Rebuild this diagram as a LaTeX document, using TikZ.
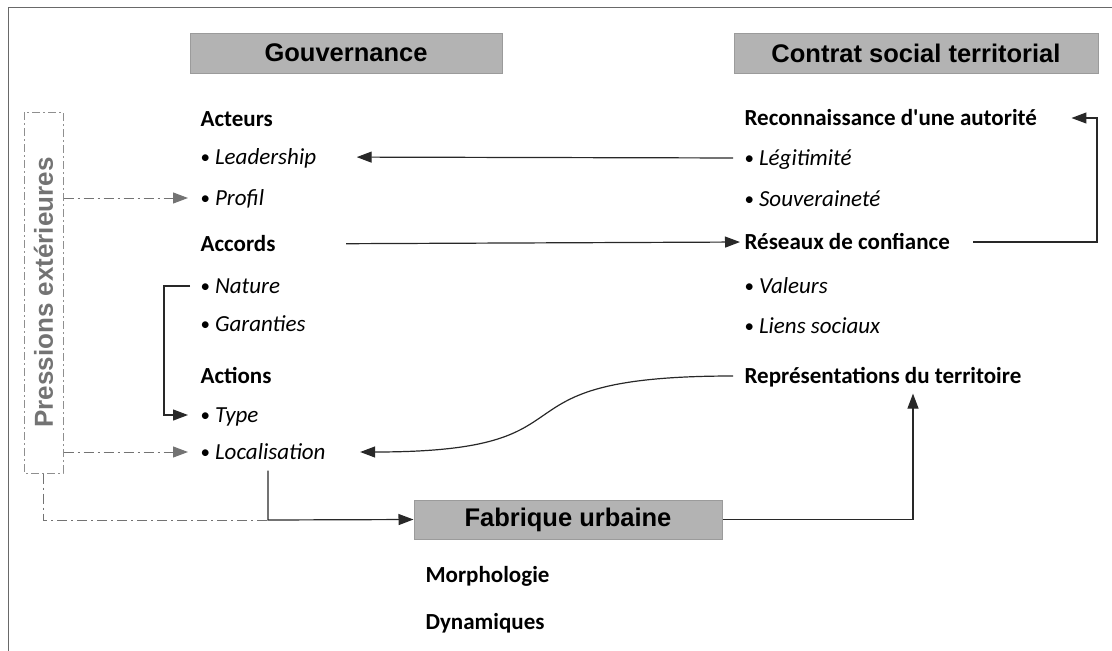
\documentclass[tikz,border=0pt]{standalone}
\usepackage{fontspec}
\setmainfont{Carlito}
\newfontfamily\titlefont{Liberation Sans}
\usepackage{tikz}
\usetikzlibrary{arrows.meta}

\definecolor{boxgray}{RGB}{179,179,179}
\definecolor{boxedge}{RGB}{155,155,155}
\definecolor{framegray}{RGB}{105,105,105}
\definecolor{linegray}{RGB}{40,40,40}
\definecolor{pressgray}{RGB}{115,115,115}

\newcommand{\bul}{{\fontsize{19}{19}\selectfont\raisebox{0.5pt}{•}}\hspace{5pt}}

\begin{document}
\begin{tikzpicture}[->,>={Triangle[length=15pt,width=11pt]},x=1pt,y=-1pt,
                    line width=1.2pt, color=linegray]
  \tikzstyle{title}=[draw=boxedge,fill=boxgray,text=black,line width=1pt,
                     minimum height=40pt,font=\titlefont\bfseries\fontsize{25.5}{30}\selectfont]
  \tikzstyle{head}=[anchor=west,inner sep=0pt,text=black,text height=17pt,
                    text depth=3pt,font=\bfseries\fontsize{23}{27}\selectfont]
  \tikzstyle{item}=[head,font=\fontsize{23}{27}\selectfont]
  \tikzstyle{press}=[pressgray,line width=1pt,dash pattern=on 10pt off 4pt on 2pt off 4pt]

  \useasboundingbox (0,0) rectangle (1112,651);
  \draw[-,framegray,line width=1.5pt] (1112,7.5) -- (8.5,7.5) -- (8.5,651);

  % titles
  \node[title, minimum width=312pt] (gouv)    at (346,53)    {Gouvernance};
  \node[title, minimum width=364pt] (contrat) at (916,53)    {Contrat social territorial};
  \node[title, minimum width=308pt, minimum height=39pt] (fab) at (568,519.5) {Fabrique urbaine};

  % gouvernance
  \node[head] (acteurs) at (200,119) {Acteurs};
  \node[item] (lead)    at (200,157) {\bul\textit{Leadership}};
  \node[item] (prof)    at (200,198) {\bul\textit{Profil}};
  \node[head] (accords) at (200,244) {Accords};
  \node[item] (nat)     at (200,286) {\bul\textit{Nature}};
  \node[item] (gar)     at (200,324) {\bul\textit{Garanties}};
  \node[head] (actions) at (200,376) {Actions};
  \node[item] (type)    at (200,415) {\bul\textit{Type}};
  \node[item] (loc)     at (200,452) {\bul\textit{Localisation}};

  % contrat social
  \node[head] (recon)   at (744,118) {Reconnaissance d\textquotesingle une autorité};
  \node[item] (legit)   at (744,158) {\bul\textit{Légitimité}};
  \node[item] (souv)    at (744,199) {\bul\textit{Souveraineté}};
  \node[head] (reseaux) at (744,242) {Réseaux de confiance};
  \node[item] (val)     at (744,286) {\bul\textit{Valeurs}};
  \node[item] (liens)   at (744,326) {\bul\textit{Liens sociaux}};
  \node[head] (repr)    at (744,376) {Représentations du territoire};

  % fabrique urbaine
  \node[head] (morph) at (425,575) {Morphologie};
  \node[head] (dyn)   at (425,622) {Dynamiques};

  \node[press, draw=pressgray!80, dash pattern=on 8pt off 3pt on 2pt off 3pt,
        rotate=90, minimum width=361pt, minimum height=39pt, text=pressgray,
        font=\titlefont\bfseries\fontsize{26}{30}\selectfont] (press) at (43.5,292.5)
        {Pressions extérieures};

  \coordinate (jn) at (268,520);
  \coordinate (rc) at (1097,180);

  \path (legit.west)   edge [shorten <=11pt, shorten >=40pt] (lead.east)
        (accords.east) edge [shorten <=70pt, shorten >=4pt]  (reseaux.west);
  \draw[shorten <=23pt, shorten >=34pt] (reseaux.east) -| (rc) |- (recon.east);
  \draw[shorten <=10pt, shorten >=12pt] (nat.west) -- ++(-36,0) |- (type.west);
  \draw[shorten <=11pt, shorten >=34pt] (repr.west) .. controls +(-270,0) and +(285,0) .. (loc.east);
  \draw[shorten <=8pt] (jn |- loc.south) -- (jn) -- (fab.west);
  \draw[shorten >=7pt] (fab.east) -| ([xshift=169pt]repr.south west);

  \draw[press, shorten >=12pt] (press.south |- prof.west) -- (prof.west);
  \draw[press, shorten >=12pt] (press.south |- loc.west) -- (loc.west);
  \draw[press, -] (press.west) |- (jn);
\end{tikzpicture}
\end{document}
